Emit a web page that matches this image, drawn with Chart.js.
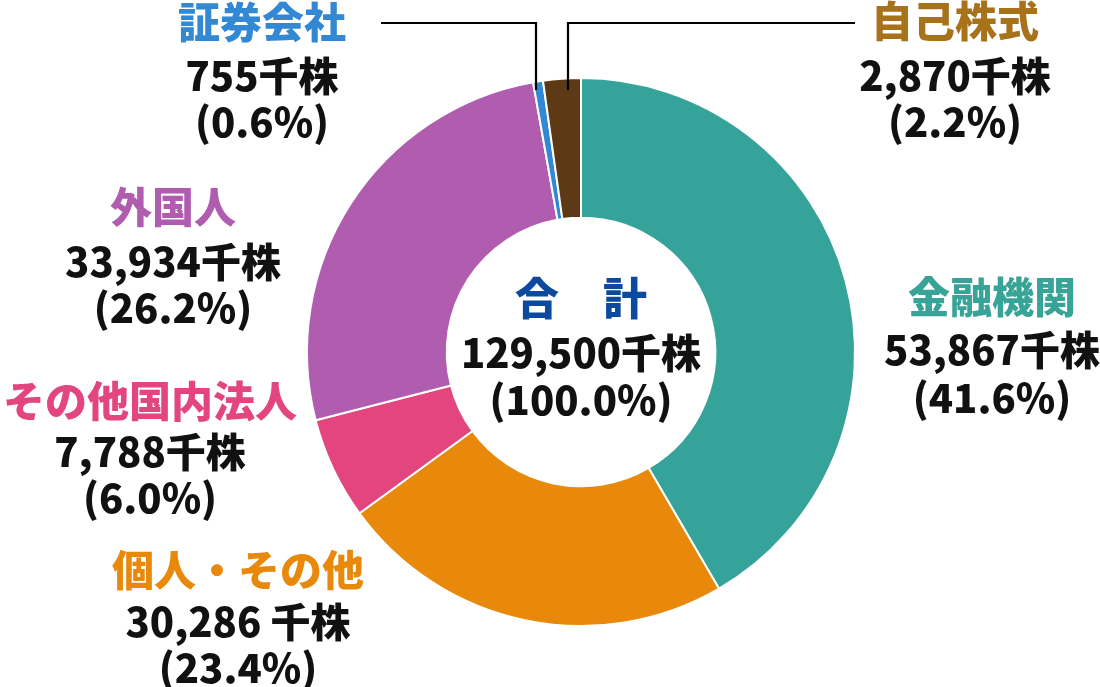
<!DOCTYPE html>
<html><head><meta charset="utf-8">
<script src="https://cdn.jsdelivr.net/npm/chart.js@4"></script>
<style>html,body{margin:0;padding:0;background:#fff;}#wrap{width:1100px;height:687px;}</style>
</head><body><div id="wrap"><canvas id="c" width="1100" height="687"></canvas></div>
<script>
const categories = ['金融機関','個人・その他','その他国内法人','外国人','証券会社','自己株式'];
const values = [53867, 30286, 7788, 33934, 755, 2870];
const valueLabels = ['53,867千株','30,286 千株','7,788千株','33,934千株','755千株','2,870千株'];
const pctLabels = ['(41.6%)','(23.4%)','(6.0%)','(26.2%)','(0.6%)','(2.2%)'];
const totalTitle = '合　計';
const totalLabel = '129,500千株';
const totalPct = '(100.0%)';

const colors = ['#36A39A','#E8890C','#E3457F','#B05DB0','#3388D4','#5E3916'];
const titleColors = ['#38A497','#E8890C','#E3457F','#B05DB0','#3388D4','#A8721A'];
// label block centers (x, title y, value y, pct y)
const labelPos = [
  [992, 297, 350, 398],
  [238, 570, 622, 668],
  [150, 401, 452, 498],
  [173, 207, 262, 308],
  [262, 22, 76, 122],
  [955, 21, 76, 122]
];
const FONT = '"Noto Sans CJK JP","Noto Sans",sans-serif';

const labelsPlugin = {
  id: 'labels',
  afterDraw(chart) {
    const ctx = chart.ctx;
    ctx.save();
    ctx.textAlign = 'center';
    ctx.textBaseline = 'middle';
    categories.forEach((name, i) => {
      const p = labelPos[i];
      ctx.fillStyle = titleColors[i];
      ctx.font = '900 42px ' + FONT;
      ctx.fillText(name, p[0], p[1]);
      ctx.fillStyle = '#111';
      ctx.font = '900 40px ' + FONT;
      ctx.fillText(valueLabels[i], p[0], p[2]);
      ctx.fillText(pctLabels[i], p[0], p[3]);
    });
    const meta = chart.getDatasetMeta(0);
    const arc0 = meta.data[0];
    const cx = arc0.x, cy = arc0.y;
    ctx.fillStyle = '#0B4A9E';
    ctx.font = '900 44px ' + FONT;
    ctx.fillText(totalTitle, cx, cy - 54);
    ctx.fillStyle = '#111';
    ctx.font = '900 40px ' + FONT;
    ctx.fillText(totalLabel, cx, cy + 1);
    ctx.fillText(totalPct, cx, cy + 48);
    // leader lines
    ctx.strokeStyle = '#000';
    ctx.lineWidth = 2.2;
    ctx.beginPath();
    ctx.moveTo(381, 23); ctx.lineTo(536, 23); ctx.lineTo(536, 90);
    ctx.moveTo(855, 23); ctx.lineTo(568, 23); ctx.lineTo(568, 90);
    ctx.stroke();
    ctx.restore();
  }
};

new Chart(document.getElementById('c'), {
  type: 'doughnut',
  data: {
    labels: categories,
    datasets: [{
      data: values,
      backgroundColor: colors,
      borderColor: '#fff',
      borderWidth: 2,
      hoverOffset: 0
    }]
  },
  options: {
    responsive: false,
    animation: false,
    cutout: '49%',
    rotation: 0,
    layout: { padding: { left: 306, right: 244, top: 77, bottom: 60 } },
    plugins: { legend: { display: false }, tooltip: { enabled: false } }
  },
  plugins: [labelsPlugin]
});
</script>
</body></html>
